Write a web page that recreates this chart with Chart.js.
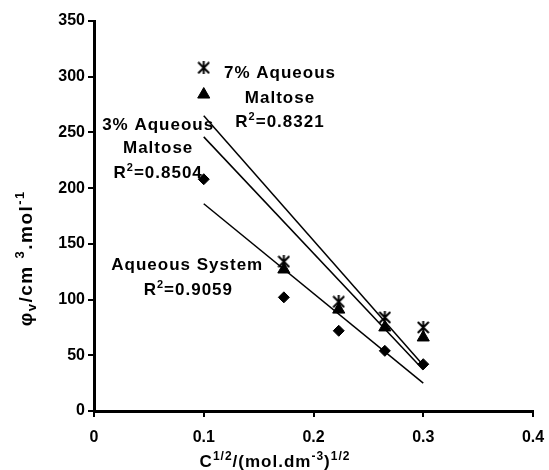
<!DOCTYPE html>
<html>
<head>
<meta charset="utf-8">
<script src="https://cdn.jsdelivr.net/npm/chart.js@4/dist/chart.umd.min.js"></script>
<style>
  html, body { margin: 0; padding: 0; background: #fff; }
  #c { display: block; }
</style>
</head>
<body>
<canvas id="c" width="549" height="470"></canvas>
<script>
// data
const xVals = [0.1, 0.173, 0.223, 0.265, 0.3];
const maltose7 = [308, 134, 98, 84, 75];
const maltose3 = [284, 127, 91, 75, 66];
const aqueous = [208, 102, 72, 54, 42];

// excel linear trendlines, end points at x = 0.1 and 0.3
const trendX = [0.1, 0.3];
const trend7 = [265, 41];
const trend3 = [246, 37];
const trendAq = [186, 25];

const xTicks = [0, 0.1, 0.2, 0.3, 0.4];
const yTicks = [0, 50, 100, 150, 200, 250, 300, 350];

// annotation text, [segments, x, y] in data units
const notes = [
  [[['7% Aqueous']], 0.169, 303],
  [[['Maltose']], 0.169, 280.5],
  [[['R'], ['2', 'sup'], ['=0.8321']], 0.169, 259],
  [[['3% Aqueous']], 0.058, 256.5],
  [[['Maltose']], 0.058, 235.5],
  [[['R'], ['2', 'sup'], ['=0.8504']], 0.058, 213.5],
  [[['Aqueous System']], 0.0845, 130.5],
  [[['R'], ['2', 'sup'], ['=0.9059']], 0.0855, 108.5],
];

const FONT = '"Liberation Sans", Arial, sans-serif';
const pts = ys => xVals.map((x, i) => ({ x, y: ys[i] }));
const line = ys => trendX.map((x, i) => ({ x, y: ys[i] }));

// excel-style asterisk marker
function asterisk(sz) {
  const c = document.createElement('canvas');
  c.width = c.height = sz;
  const g = c.getContext('2d');
  g.strokeStyle = '#000';
  g.lineWidth = 2;
  g.beginPath();
  g.moveTo(1, 1); g.lineTo(sz - 1, sz - 1);
  g.moveTo(sz - 1, 1); g.lineTo(1, sz - 1);
  g.moveTo(sz / 2, 0); g.lineTo(sz / 2, sz);
  g.stroke();
  return c;
}

// text with super/subscripts, drawn char by char so spacing is ours
function drawRich(ctx, parts, cx, cy, size, sp = 0, small = 0.62) {
  const runs = [];
  let w = 0;
  for (const [t, k] of parts) {
    const s = k ? Math.round(size * small) : size;
    ctx.font = `bold ${s}px ${FONT}`;
    for (const ch of t) {
      const cw = ctx.measureText(ch).width;
      runs.push([ch, k, s, w]);
      w += cw + sp;
    }
  }
  w -= sp;
  const x0 = cx - w / 2;
  ctx.textBaseline = 'middle';
  ctx.textAlign = 'left';
  ctx.fillStyle = '#000';
  for (const [ch, k, s, off] of runs) {
    ctx.font = `bold ${s}px ${FONT}`;
    const dy = k === 'sup' ? -size * 0.33 : k === 'sub' ? size * 0.3 : 0;
    ctx.fillText(ch, x0 + off, cy + dy);
  }
}

const textPlugin = {
  id: 'texts',
  afterDraw(chart) {
    const { ctx, scales } = chart;
    ctx.save();
    for (const [parts, x, y] of notes) {
      drawRich(ctx, parts, scales.x.getPixelForValue(x), scales.y.getPixelForValue(y), 17, 1);
    }
    // x axis title
    drawRich(ctx, [['C'], ['1/2', 'sup'], ['/(mol.dm'], ['-3', 'sup'], [')'], ['1/2', 'sup']],
      chart.width / 2, 462, 17, 1, 0.68);
    // y axis title
    ctx.translate(27, 259);
    ctx.rotate(-Math.PI / 2);
    drawRich(ctx, [['\u03c6'], ['v', 'sub'], ['/cm '], ['3', 'sup'], ['.mol'], ['-1', 'sup']], 0, 0, 19, 1.5, 0.68);
    ctx.restore();
  }
};

const marker = { showLine: false, borderColor: '#000', backgroundColor: '#000' };
const trend = { showLine: true, pointRadius: 0, borderColor: '#000', borderWidth: 1.5, fill: false };
// drop the label overhang padding chart.js adds, the layout padding covers it
const noPad = s => { s.paddingLeft = s.paddingRight = s.paddingTop = s.paddingBottom = 0; };

new Chart(document.getElementById('c'), {
  type: 'scatter',
  data: {
    datasets: [
      { label: '7% Aqueous Maltose', data: pts(maltose7), ...marker, pointStyle: asterisk(13), pointRadius: 6.5 },
      { label: '3% Aqueous Maltose', data: pts(maltose3), ...marker, pointStyle: 'triangle', pointRadius: 7 },
      { label: 'Aqueous System', data: pts(aqueous), ...marker, pointStyle: 'rectRot', pointRadius: 5.5 },
      { label: 'trend 7%', data: line(trend7), ...trend },
      { label: 'trend 3%', data: line(trend3), ...trend },
      { label: 'trend aq', data: line(trendAq), ...trend },
    ]
  },
  options: {
    responsive: false,
    animation: false,
    layout: { padding: { top: 21, right: 16, left: 0, bottom: 0 } },
    plugins: { legend: { display: false }, tooltip: { enabled: false } },
    scales: {
      x: {
        type: 'linear', min: 0, max: 0.4,
        afterBuildTicks: s => { s.ticks = xTicks.map(v => ({ value: v })); },
        afterFit: s => { s.height = 59; noPad(s); },
        grid: { drawOnChartArea: false, tickLength: 6, color: '#000', lineWidth: 2 },
        border: { color: '#000', width: 3 },
        ticks: { color: '#000', padding: 11, maxRotation: 0, font: { family: FONT, size: 16, weight: 'bold' },
                 callback: v => String(v) }
      },
      y: {
        min: 0, max: 350,
        afterBuildTicks: s => { s.ticks = yTicks.map(v => ({ value: v })); },
        afterFit: s => { s.width = 94; noPad(s); },
        grid: { drawOnChartArea: false, tickLength: 6, color: '#000', lineWidth: 2 },
        border: { color: '#000', width: 3 },
        ticks: { color: '#000', padding: 3, font: { family: FONT, size: 16, weight: 'bold' } }
      }
    }
  },
  plugins: [textPlugin]
});
</script>
</body>
</html>
